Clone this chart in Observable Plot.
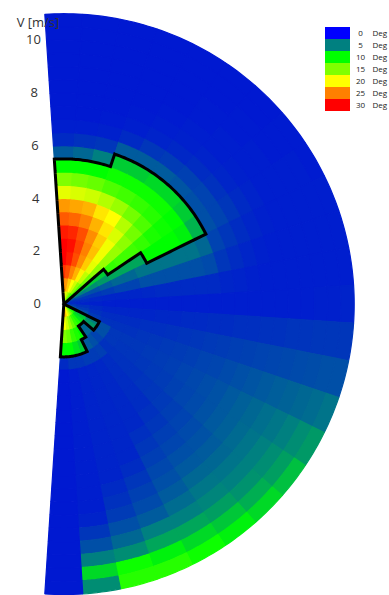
<!DOCTYPE html>
<html><head><meta charset="utf-8">
<script src="https://cdn.jsdelivr.net/npm/d3@7"></script>
<script src="https://cdn.jsdelivr.net/npm/@observablehq/plot@0.6"></script>
<style>
html,body{margin:0;padding:0;background:#fff;}
#chart{position:relative;width:389px;height:595px;overflow:hidden;}
#legend{position:absolute;left:318px;top:20px;}
</style></head><body><div id="chart"></div>
<script>
// angle bin centres (deg, 0 = up, clockwise) and wind-speed bin centres (m/s)
const angles = [0,7.5,15,22.5,30,37.5,45,52.5,60,67.5,75,82.5,90,97.5,105,112.5,120,127.5,135,142.5,150,157.5,165,172.5,180];
const speeds = [0.25,0.75,1.25,1.75,2.25,2.75,3.25,3.75,4.25,4.75,5.25,5.75,6.25,6.75,7.25,7.75,8.25,8.75,9.25,9.75,10.25,10.75];
const angleStep = 7.5, speedStep = 0.5;
// heel angle (deg), one row per angle bin, one value per speed bin
const heel = [
 [21,25,28,30,30,29,26.5,24,19,15,10,3.5,1.5,1,0.8,0.8,0.8,0.8,0.8,0.8,0.8,0.8],
 [20,24,27,29,29.5,28.5,26,23.5,18.5,14.5,10,4,1.8,1,0.8,0.8,0.8,0.8,0.8,0.8,0.8,0.8],
 [18.5,22,25,27,27.5,27,25,23,18,14,10,5,2,1.1,0.9,0.8,0.8,0.8,0.8,0.8,0.8,0.8],
 [17,20,23,24.5,25,24.5,23,21,17,13,10.5,8,3.5,1.5,1,0.9,0.8,0.8,0.8,0.8,0.8,0.8],
 [15,18,20.5,22,22.5,22,21,20,16,12.5,10.5,8,3.5,2,1.2,1,0.9,0.8,0.8,0.8,0.8,0.8],
 [13,15.5,17.5,19,19.5,19.5,18.5,17,14.5,12,10.5,8.5,3.5,2.2,1.4,1.1,1,0.9,0.9,0.8,0.8,0.8],
 [11,13,14.5,15.5,16,16,15.5,14.5,13,11.5,10.5,8.5,3.2,2.4,1.6,1.2,1,1,0.9,0.9,0.8,0.8],
 [7,7.5,8,8,12,12.5,12.5,12,11,10.5,10,8,3,2.5,1.8,1.3,1.1,1,1,0.9,0.9,0.9],
 [4,5,5.5,6,6.5,6.5,6.5,10,10,10,9.5,7,3,2.5,2,1.5,1.2,1,1,1,1,0.9],
 [2.5,3,3,3.5,4,4,4.5,4.5,4.5,4.5,4.5,4,2.5,2,1.6,1.3,1.1,1,1,1,1,1],
 [1.8,2,2,2.2,2.5,2.5,3,3,3,3,3,2.8,2,1.6,1.3,1.1,1,1,1,1,1,1],
 [1.5,1.5,1.4,1.3,1.3,1.3,1.4,1.5,1.5,1.5,1.5,1.5,1.3,1.2,1.1,1,1,1,1,1,1,1],
 [1.5,1.2,1.1,1,1,1,1,1,1,1,1,1,1,1,1,1,1,1,1,1.1,1.1,1.2],
 [2,1.8,1.5,1.3,1.3,1.3,1.3,1.4,1.4,1.5,1.5,1.6,1.6,1.7,1.7,1.8,1.8,1.9,1.9,2,2,2],
 [2.5,2.2,1.8,1.6,1.6,1.6,1.7,1.7,1.8,1.9,2,2.1,2.2,2.3,2.4,2.5,2.6,2.7,2.8,2.9,3,3],
 [4,3,2.2,1.8,1.8,1.8,1.9,2,2.1,2.2,2.3,2.5,2.6,2.8,3,3.2,3.4,3.6,3.8,4,4.2,4.5],
 [9,7,5,3,2,2,2,2.1,2.2,2.3,2.5,2.7,2.9,3.1,3.4,3.7,4,4.3,4.6,5,5.5,6],
 [10,8,6,3,2,1.9,1.9,2,2.1,2.2,2.4,2.6,2.8,3.1,3.4,3.7,4.1,4.5,5,5.5,6.2,7.5],
 [12,9,4,2.5,1.8,1.8,1.8,1.8,1.9,2,2.1,2.3,2.5,2.8,3.1,3.5,4,4.5,5,5.7,6.8,8.5],
 [14,11,4,3,2.3,1.6,1.6,1.6,1.6,1.6,1.8,2,2.3,2.6,3,3.4,4,4.6,5.2,6.2,7.8,9.5],
 [16,12,10,3.5,2.2,1.4,1.4,1.4,1.4,1.4,1.4,1.7,2,2.3,2.7,3,3.5,4.2,5,6.5,8.5,10.5],
 [18,14,11,8,2.2,1.3,1.3,1.3,1.3,1.3,1.3,1.3,1.3,1.6,2,2.4,2.8,3.5,5,6.5,9.5,11.5],
 [20,16,12,9,2,1.2,1.2,1.2,1.2,1.2,1.2,1.2,1.2,1.2,1.5,1.8,2.2,3,4,5.5,10.5,11.5],
 [22,18,14,10,2,1,1,1,1,1,1,1,1,1,1,1,1.2,2,3,5,8.5,5.5],
 [24,20,15,10,1.5,0.8,0.8,0.8,0.8,0.8,0.8,0.8,0.8,0.8,0.8,0.8,0.8,0.8,0.8,0.8,0.8,0.8]
];
// outlined (limit) region: speed range per angle bin, null = none
const outlineFrom = [0,0,0,0,0,0,0,2,3.5,null,null,null,null,null,null,null,0,0,0,0,0,0,0,0,0];
const outlineTo   = [5.5,5.5,5.5,6,6,6,6,6,6,null,null,null,null,null,null,null,1.5,1.5,1,1,1.5,2,2,2,2];
// legend
const legendLevels = [0,5,10,15,20,25,30];
const legendColors = ["#0000ff","#008080","#00ff00","#80ff00","#ffff00","#ff8000","#ff0000"];
const cellColors   = ["#0005e1","#008080","#00ff00","#80ff00","#ffff00","#ff8000","#ff0000"];
const vTicks = [0,2,4,6,8,10];

// ---- geometry helpers (polar via azimuthal projection centred on the pole) ----
const lonOf = t => 180 - t, latOf = v => 90 - Math.max(v, 1e-4);
function arcPts(t0, t1, v) {
  const n = Math.max(2, Math.ceil(Math.abs(t1 - t0)));
  return d3.range(n + 1).map(i => [lonOf(t0 + (t1 - t0) * i / n), latOf(v)]);
}
function cellRing(t0, t1, v0, v1) {
  const inner = arcPts(t1, t0, v0);
  const outer = arcPts(t0, t1, v1);
  return [[lonOf(t1), latOf(v1)], ...inner, ...outer];
}
const cells = [];
angles.forEach((a, k) => speeds.forEach((v, j) => {
  cells.push({type: "Feature", properties: {heel: heel[k][j]},
    geometry: {type: "Polygon", coordinates: [cellRing(a - angleStep/2, a + angleStep/2, v - speedStep/2, v + speedStep/2)]}});
}));
const inMask = (k, j) => k >= 0 && k < angles.length && j >= 0 && j < speeds.length &&
  outlineFrom[k] != null && speeds[j] - speedStep/2 >= outlineFrom[k] - 1e-9 && speeds[j] + speedStep/2 <= outlineTo[k] + 1e-9;
const edges = [];
angles.forEach((a, k) => speeds.forEach((v, j) => {
  if (!inMask(k, j)) return;
  const t0 = a - angleStep/2, t1 = a + angleStep/2, v0 = v - speedStep/2, v1 = v + speedStep/2;
  if (!inMask(k, j + 1)) edges.push(arcPts(t0, t1, v1));
  if (j > 0 && !inMask(k, j - 1)) edges.push(arcPts(t0, t1, v0));
  if (!inMask(k - 1, j)) edges.push([[lonOf(t0), latOf(v0)], [lonOf(t0), latOf(v1)]]);
  if (!inMask(k + 1, j)) edges.push([[lonOf(t1), latOf(v0)], [lonOf(t1), latOf(v1)]]);
}));
const outline = {type: "MultiLineString", coordinates: edges};

const pxPerUnit = 26.4;
const projection = d3.geoAzimuthalEquidistant().rotate([0, -90])
  .scale(pxPerUnit * 180 / Math.PI).translate([63.3, 303.6]).precision(0.1);

const chart = Plot.plot({
  width: 389, height: 595, margin: 0,
  projection,
  color: {type: "linear", domain: legendLevels, range: cellColors, interpolate: "rgb"},
  style: {fontFamily: "'Open Sans', sans-serif", background: "white"},
  marks: [
    Plot.geo(cells, {fill: d => d.properties.heel, stroke: d => d.properties.heel, strokeWidth: 1.2, strokeLinejoin: "miter"}),
    Plot.geo([outline], {fill: "none", stroke: "black", strokeWidth: 3, strokeLinecap: "square", strokeLinejoin: "miter", strokeMiterlimit: 4}),
    Plot.text(vTicks, {x: 180.8, y: d => 90 - d, text: d => String(d), dx: -26.6, fill: "#333", fontSize: 13}),
    Plot.text(["V [m/s]"], {frameAnchor: "top-left", dx: 37.5, dy: 17.5, textAnchor: "middle", fill: "#333", fontSize: 13})
  ]
});
document.getElementById("chart").appendChild(chart);

const legend = Plot.plot({
  width: 71, height: 100, marginTop: 4.3, marginBottom: 6.7, marginLeft: 0, marginRight: 0,
  x: {domain: [0, 71], axis: null},
  y: {domain: legendLevels, type: "band", padding: 0, axis: null},
  color: {type: "identity"},
  style: {fontFamily: "'Open Sans', sans-serif", background: "transparent"},
  marks: [
    Plot.barX(legendLevels, {x1: 7, x2: 32, y: d => d, fill: (d, i) => legendColors[i]}),
    Plot.text(legendLevels, {x: 42, y: d => d, text: d => String(d), fontSize: 8, fill: "#222"}),
    Plot.text(legendLevels, {x: 54, y: d => d, text: () => "Deg", textAnchor: "start", fontSize: 8, fill: "#222"})
  ]
});
legend.id = "legend";
document.getElementById("chart").appendChild(legend);
</script></body></html>
